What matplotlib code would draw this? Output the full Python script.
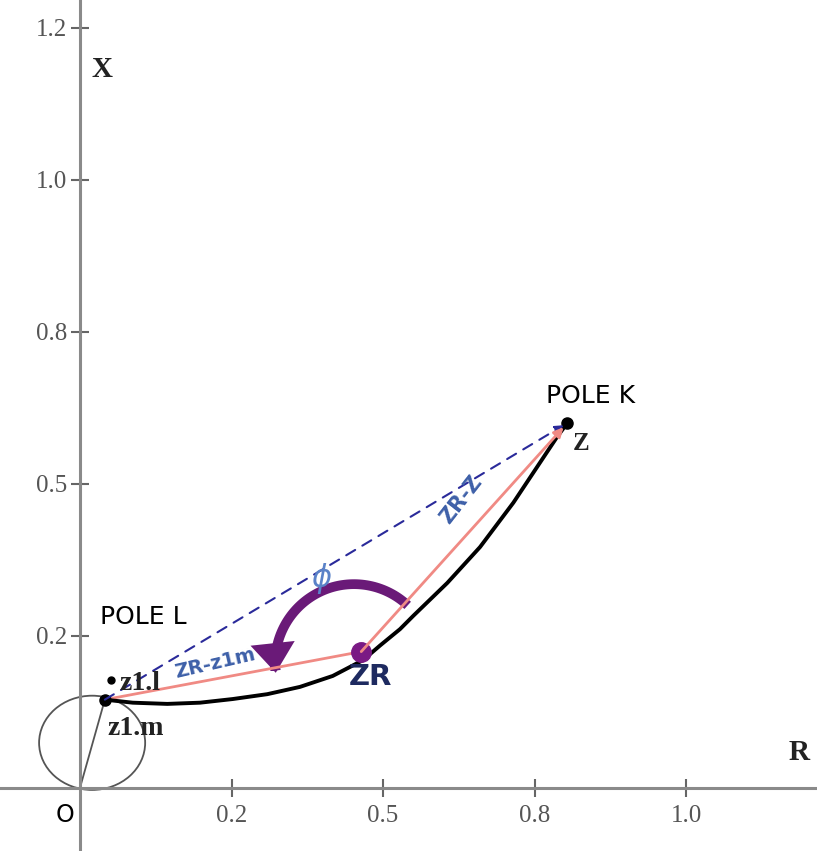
"""Locus of the impedance point between pole L and pole K in the R-X plane."""

import numpy as np
import matplotlib.pyplot as plt
from matplotlib.patches import Ellipse, FancyArrowPatch
from matplotlib.path import Path

# tick positions and their printed labels
r_ticks = [0.25, 0.5, 0.75, 1.0]
r_tick_labels = ["0.2", "0.5", "0.8", "1.0"]
x_ticks = [0.25, 0.5, 0.75, 1.0, 1.25]
x_tick_labels = ["0.2", "0.5", "0.8", "1.0", "1.2"]

# impedance locus
locus_r = [0.041, 0.087, 0.144, 0.198, 0.252, 0.309, 0.363, 0.417, 0.467,
           0.495, 0.528, 0.550, 0.606, 0.660, 0.715, 0.759, 0.787, 0.804]
locus_x = [0.145, 0.140, 0.138, 0.140, 0.146, 0.154, 0.166, 0.184, 0.210,
           0.234, 0.261, 0.283, 0.337, 0.396, 0.469, 0.535, 0.577, 0.600]

z1m = (0.041, 0.145)
z1l = (0.051, 0.178)
zr = (0.464, 0.224)
z = (0.804, 0.600)

# small circle through O and z1.m
circle_center = (0.020, 0.074)
circle_w, circle_h = 0.175, 0.155

# angle arc around ZR
arc_center = (0.452, 0.205)
arc_radius = 0.130
arc_start_deg = 47
arc_end_deg = 187

SERIF = "Liberation Serif"
AXIS_GREY = "#8a8a8a"


def main():
    fig = plt.figure(figsize=(8.17, 8.51), dpi=100)
    ax = fig.add_axes([0, 0, 1, 1])
    ax.set_xlim(-0.132, 1.216)
    ax.set_ylim(-0.104, 1.296)

    for side in ["top", "right"]:
        ax.spines[side].set_visible(False)
    for side in ["left", "bottom"]:
        ax.spines[side].set_position("zero")
        ax.spines[side].set_color(AXIS_GREY)
        ax.spines[side].set_linewidth(2.2)

    ax.set_xticks(r_ticks, labels=r_tick_labels)
    ax.set_yticks(x_ticks, labels=x_tick_labels)
    ax.tick_params(direction="inout", length=13, width=1.5, color="#666666",
                   labelcolor="#555555", labelsize=18)
    ax.tick_params(axis="x", pad=6)
    ax.tick_params(axis="y", pad=3)
    for lab in ax.get_xticklabels() + ax.get_yticklabels():
        lab.set_fontfamily(SERIF)

    circ = Ellipse(circle_center, circle_w, circle_h, fill=False,
                   ec="#555555", lw=1.3)
    ax.add_patch(circ)
    ax.plot([0, z1m[0]], [0, z1m[1]], color="#555555", lw=1.3)

    # dashed chord z1.m -> Z
    ax.annotate("", xy=z, xytext=z1m,
                arrowprops=dict(arrowstyle="-|>", color="#2a2a9a", lw=1.5,
                                ls=(0, (5, 4)), mutation_scale=12,
                                shrinkA=0, shrinkB=3))
    # red vectors
    ax.plot([z1m[0], zr[0]], [z1m[1], zr[1]], color="#f08a84", lw=2)
    ax.annotate("", xy=z, xytext=zr,
                arrowprops=dict(arrowstyle="-|>", color="#f08a84", lw=2,
                                mutation_scale=14, shrinkA=0, shrinkB=4))

    # locus
    ax.plot(locus_r, locus_x, color="black", lw=2.8, solid_joinstyle="round",
            solid_capstyle="round")

    # points
    ax.plot(*z, "o", color="black", ms=8)
    ax.plot(*z1m, "o", color="black", ms=8)
    ax.plot(*z1l, "o", color="black", ms=5)
    ax.plot(*zr, "o", color="#7a1a84", ms=14)

    # angle arrow
    t = np.radians(np.linspace(arc_start_deg, arc_end_deg, 80))
    verts = np.column_stack([arc_center[0] + arc_radius * np.cos(t),
                             arc_center[1] + arc_radius * np.sin(t)])
    arc = FancyArrowPatch(path=Path(verts),
                          arrowstyle="-|>,head_length=0.6,head_width=0.45",
                          color="#6a1a78", lw=7, mutation_scale=20,
                          capstyle="butt", joinstyle="miter")
    ax.add_patch(arc)

    # labels
    bold_serif = dict(family=SERIF, weight="bold", color="#222222",
                      ha="center", va="center")
    ax.text(0.036, 1.181, "X", fontsize=21, **bold_serif)
    ax.text(1.186, 0.058, "R", fontsize=21, **bold_serif)
    ax.text(0.827, 0.566, "Z", fontsize=18, **bold_serif)
    ax.text(0.099, 0.171, "z1.l", fontsize=20, **bold_serif)
    ax.text(0.092, 0.097, "z1.m", fontsize=20, **bold_serif)

    sans = dict(family="DejaVu Sans", color="black", ha="center", va="center")
    ax.text(-0.025, -0.044, "O", fontsize=17, **sans)
    ax.text(0.104, 0.281, "POLE L", fontsize=18, **sans)
    ax.text(0.842, 0.645, "POLE K", fontsize=18, **sans)

    ax.text(0.479, 0.183, "ZR", fontsize=21, weight="bold", color="#1e2a60",
            family="DejaVu Sans", ha="center", va="center")
    ax.text(0.223, 0.204, "ZR-z1m", fontsize=14, weight="bold", color="#3d5fa8",
            rotation=13, ha="center", va="center", rotation_mode="anchor")
    ax.text(0.629, 0.474, "ZR-Z", fontsize=15, weight="bold", color="#3d5fa8",
            rotation=52, ha="center", va="center", rotation_mode="anchor")
    ax.text(0.399, 0.345, r"$\phi$", fontsize=22, color="#5a82c8",
            ha="center", va="center")

    fig.savefig("out.png", dpi=100)
    plt.close(fig)


if __name__ == "__main__":
    main()
